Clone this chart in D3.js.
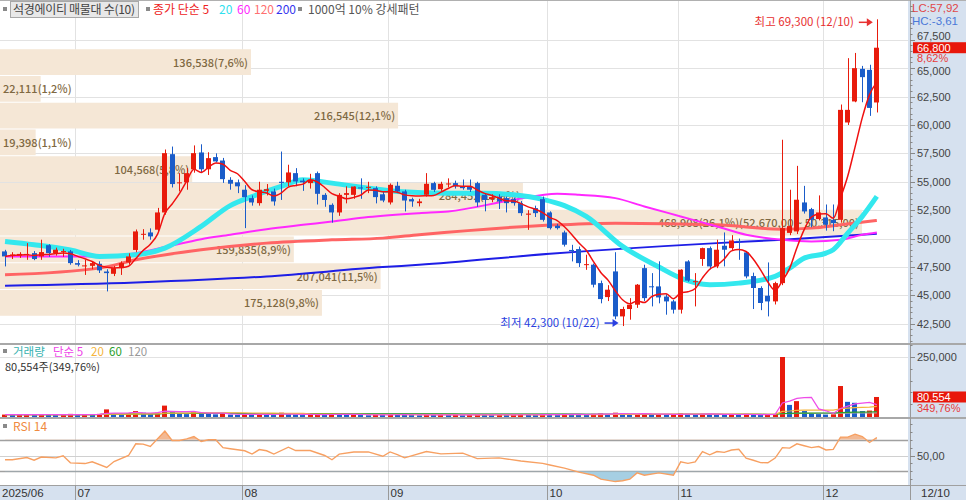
<!DOCTYPE html>
<html><head><meta charset="utf-8">
<script src="https://cdn.jsdelivr.net/npm/d3@7"></script>
<style>
body{margin:0;background:#fff;}
svg{display:block;font-family:"Noto Sans CJK KR","Noto Sans",sans-serif;font-size:11px;}
</style></head><body>
<svg id="c" width="966" height="500"></svg>
<script>
// ---------------- DATA ----------------
const dates = [
"2025/06/17","2025/06/18","2025/06/19","2025/06/20","2025/06/23","2025/06/24","2025/06/25","2025/06/26","2025/06/27","2025/06/30",
"2025/07/01","2025/07/02","2025/07/03","2025/07/04","2025/07/07","2025/07/08","2025/07/09","2025/07/10","2025/07/11","2025/07/14","2025/07/15","2025/07/16","2025/07/17","2025/07/18","2025/07/21","2025/07/22","2025/07/23","2025/07/24","2025/07/25","2025/07/28","2025/07/29","2025/07/30","2025/07/31",
"2025/08/01","2025/08/04","2025/08/05","2025/08/06","2025/08/07","2025/08/08","2025/08/11","2025/08/12","2025/08/13","2025/08/14","2025/08/18","2025/08/19","2025/08/20","2025/08/21","2025/08/22","2025/08/25","2025/08/26","2025/08/27","2025/08/28","2025/08/29",
"2025/09/01","2025/09/02","2025/09/03","2025/09/04","2025/09/05","2025/09/08","2025/09/09","2025/09/10","2025/09/11","2025/09/12","2025/09/15","2025/09/16","2025/09/17","2025/09/18","2025/09/19","2025/09/22","2025/09/23","2025/09/24","2025/09/25","2025/09/26","2025/09/29","2025/09/30",
"2025/10/01","2025/10/02","2025/10/10","2025/10/13","2025/10/14","2025/10/15","2025/10/16","2025/10/17","2025/10/20","2025/10/21","2025/10/22","2025/10/23","2025/10/24","2025/10/27","2025/10/28","2025/10/29","2025/10/30","2025/10/31",
"2025/11/03","2025/11/04","2025/11/05","2025/11/06","2025/11/07","2025/11/10","2025/11/11","2025/11/12","2025/11/13","2025/11/14","2025/11/17","2025/11/18","2025/11/19","2025/11/20","2025/11/21","2025/11/24","2025/11/25","2025/11/26","2025/11/27","2025/11/28",
"2025/12/01","2025/12/02","2025/12/03","2025/12/04","2025/12/05","2025/12/08","2025/12/09","2025/12/10"];

const open = [48870,48500,48500,48600,48720,48430,49420,48720,48850,48870,
47840,47600,47600,47780,47100,46900,47400,47900,49000,50400,50540,50780,52300,57430,54900,54950,56100,57580,56100,57170,56870,55170,54950,
54300,53560,53120,54200,54150,55000,54950,55760,55100,54880,55760,53850,52970,52300,53850,53850,54500,54500,54440,53900,
53180,54650,54150,53470,53120,53860,54880,54350,54790,54880,54590,54590,54880,53850,53470,53700,53560,53470,53120,52100,52680,53470,
52300,51130,50540,49000,49075,47700,47700,46080,44850,47110,43150,43800,44180,47400,45800,45790,44900,44470,
43740,47990,46200,48200,49160,47550,49370,49160,49800,48780,46700,45650,44970,44470,46080,50500,50630,53180,52590,51720,
51860,51650,51650,60220,62070,64940,64850,61980];
const high = [49010,48800,48800,49600,48900,49900,49500,49200,49100,49000,
48100,48130,48000,48000,47300,47600,48000,48700,50800,50830,50900,52700,57840,58100,55760,56200,58200,58300,57600,57500,57100,55400,55200,
54700,53800,55000,54800,54400,57660,56500,56200,55300,55700,55900,54000,53100,54000,54600,54600,55300,55000,54600,54100,
54850,55000,54300,53600,53500,55760,55000,55000,55300,55100,55200,55200,55000,54000,53900,53900,53700,53600,53300,52500,52900,53700,
52400,51300,50700,49450,49300,48580,47800,46300,45900,48800,44000,44760,46000,47700,46960,48000,45100,44600,
47300,48100,46960,49200,49300,49900,50540,50300,50000,48900,47000,45800,47900,46200,58700,54300,56400,54640,52700,53800,
53000,53000,61800,65880,66340,65200,65300,69300];
const low = [47550,48200,48300,48130,48100,48130,48400,48500,48400,47700,
47550,46800,47300,46970,45350,46700,46800,47700,48800,49900,49900,50600,52100,54500,54150,54300,55800,55800,55600,56700,54900,54300,54000,
50920,52900,52900,53800,52900,53400,54600,54600,54200,54400,53000,52800,51400,52000,53100,53500,53500,54000,53100,53200,
53000,54000,52390,52800,52830,53700,54100,54200,54500,54400,54300,54100,52800,52400,53200,52600,52300,52900,52000,50770,51900,51500,
50800,50800,49300,47990,47500,47250,45700,44300,44500,42900,42300,42860,43900,44500,44030,44300,43300,43400,
43400,46200,44030,47600,47300,47400,47550,49000,48130,46500,43800,43700,43150,44200,45900,50300,50400,52200,51000,51600,
50700,50650,51400,60000,62000,62000,60800,61100];
const close = [48430,48600,48650,48650,48200,48810,48720,49020,48900,47840,
47700,47640,47840,47200,46960,47400,47840,48430,50630,50420,50190,52300,57520,54800,54950,55760,57520,56100,57080,56790,55230,54830,54600,
53650,53180,54300,54350,53270,54900,55820,55030,54950,55170,53940,53400,52300,53850,54000,54580,54450,54550,53650,53350,
54730,54150,53350,53270,53270,54820,54290,54820,54850,54590,54440,54300,53180,53400,53650,53270,53120,53120,52240,52200,52240,51650,
50920,50920,49460,48900,47840,47750,45940,44675,45500,43150,43800,44180,45940,44760,45750,44820,44470,43740,
47260,46300,46250,49160,47550,49020,49020,49840,49750,46670,45650,44330,44470,46080,50920,51100,53420,52390,51650,52300,
51220,51360,61330,61330,65000,64210,61500,66800];
const volume = [6000,5000,5500,7000,5000,8000,6000,4000,5000,9000,
6000,7000,5000,9000,28000,10000,8000,12000,21000,14000,9000,14000,44000,17000,10000,8000,21000,14000,10000,7000,9000,6000,5000,
9000,6000,8000,5000,4000,14000,8000,6000,4000,5000,8000,6000,9000,8000,5000,6000,4000,3000,5000,4000,
8000,6000,5000,4000,3000,7000,5000,6000,4000,5000,3000,4000,8000,6000,4000,5000,4000,6000,7000,5000,4000,8000,
7000,4000,9000,8000,6000,5000,9000,11000,7000,14000,10000,6000,9000,12000,6000,7000,5000,6000,
12000,9000,5000,9000,8000,7000,6000,6000,5000,9000,6000,5000,6000,8000,250000,47000,63000,21000,12000,8000,
6000,7000,127000,60000,56000,21000,23031,80554];

// moving averages: [candle index, price]
const ma20Pts = [[0,49750],[4,49460],[9,49000],[13,48430],[18,48580],[22,49160],[27,51070],[31,52900],[34,53700],[38,54590],[41,55170],[45,54880],[50,54440],[54,54150],[61,54000],[66,54000],[70,53850],[74,53450],[77,52900],[80,51950],[85,49310],[90,47500],[93,46520],[97,45940],[101,46080],[106,46670],[108,47400],[110,48280],[113,48720],[114,49020],[116,50480],[118,51950],[120,53710]];
const ma60Pts = [[0,48430],[13,48430],[18,48720],[22,49250],[27,49950],[31,50330],[36,50830],[41,51210],[45,51500],[50,51890],[57,52240],[61,52390],[70,53410],[76,53940],[79,53850],[84,53560],[88,52830],[93,51950],[98,51070],[102,50340],[107,49890],[111,49750],[115,49890],[118,50340],[120,50540]];
const ma120Pts = [[0,46815],[13,47400],[18,48130],[27,49020],[36,49600],[45,49890],[52,50040],[57,50340],[76,51210],[84,51360],[98,51210],[107,50830],[111,50920],[115,51210],[120,51590]];
const ma200Pts = [[0,45850],[18,46140],[36,46670],[52,47490],[57,47690],[75,48660],[98,49600],[107,49890],[120,50420]];
// RSI 14: [candle index, value]
const rsiPts = [[0,44.6],[1,44.6],[3,47.5],[4,44],[5,48],[7,47],[8,49.6],[9,40.7],[11,39.8],[12,42],[14,34.8],[15,42.4],[17,50],[18,64.8],[19,64.4],[20,61.4],[22,81],[23,69],[24,69],[25,71],[26,74],[27,67.7],[28,70],[29,70],[30,60],[31,58.6],[33,56],[34,51.8],[35,57.5],[36,56],[37,51.8],[39,60.5],[40,56.3],[42,56.3],[44,50],[45,44.6],[46,51.8],[48,54.5],[50,54.5],[52,49],[53,54.5],[54,51],[55,47],[58,55],[60,52],[63,53],[65,46],[68,47],[71,43],[74,40],[75,38],[77,34],[79,29],[81,25],[82,20],[84,17],[85,18],[86,20],[87,28],[88,25],[90,28],[92,25],[93,42],[94,40],[95,42],[96,55],[97,50.9],[98,55],[99,54],[100,57],[101,57.8],[102,46.7],[103,44],[104,41],[105,40.8],[106,46.7],[107,60],[108,59.4],[109,64.8],[110,62.3],[111,60],[112,61.3],[113,57],[114,57.8],[115,73.3],[116,73.3],[117,77],[118,74],[119,66.5],[120,72.8]];

// volume profile (매물대), top to bottom
const profHigh = [66800,64445,62090,59735,57380,55025,52670,50315,47960,45605];
const profLow  = [64445,62090,59735,57380,55025,52670,50315,47960,45605,43250];
const profVol  = [136538,22111,216545,19398,104568,284452,468908,159835,207041,175128];

const priceTicks = [42500,45000,47500,50000,52500,55000,57500,60000,62500,65000,67500];
const volTicks = [250000];
const rsiTicks = [50];
const rsiLevels = [70,50,30];

// legends
const mainLegend = [["종가 단순 5","#ee2222"],["20","#30e0ee"],["60","#ff28ff"],["120","#ff7070"],["200","#3535ee"]];
const volLegend = [["거래량","#37b2b0"],["단순 5","#ee44e8"],["20","#f5b53c"],["60","#2aa02a"],["120","#999"]];

// ---------------- LAYOUT ----------------
const W=966,H=500,AX=908;
const AXBG="#d6e1ef";
const UP="#e81b0c", DN="#1a5cc9";
const NUMFONT="'Liberation Sans','DejaVu Sans',sans-serif";
const P={top:0,bottom:343}, V={top:345,bottom:417}, R={top:419,bottom:485};
const svg=d3.select("#c");
const n=dates.length;
const x=d3.scaleBand().domain(d3.range(n)).range([1.4,1.4+n*7.265]).paddingInner(0.3).paddingOuter(0.15);
const bw=x.bandwidth();
const cx=i=>x(i)+bw/2;
const yP=d3.scaleLinear().domain([40800,71000]).range([343.1,0]);
const yV=d3.scaleLinear().domain([0,300000]).range([416,345.2]);
const yR=d3.scaleLinear().domain([0,100]).range([495,416]);
const fmt=d3.format(",");
const dec=(v,p)=>v.toFixed(p).replace(".",",");
const fmt2=v=>d3.format(",.2f")(v).replace(/\.(\d\d)$/,",$1");

const defs=svg.append("defs");
function clip(id,x0,y0,w,h){defs.append("clipPath").attr("id",id).append("rect").attr("x",x0).attr("y",y0).attr("width",w).attr("height",h);}
clip("cp",0,P.top,AX,P.bottom-P.top);
clip("cv",0,V.top,AX,V.bottom-V.top+1);
clip("cr",0,R.top,AX,R.bottom-R.top);
clip("crUp",0,R.top,AX,yR(70)-R.top);
clip("crDn",0,yR(30),AX,R.bottom-yR(30));

// backgrounds
svg.append("rect").attr("width",W).attr("height",H).attr("fill","#fff");
svg.append("rect").attr("x",AX).attr("y",0).attr("width",W-AX).attr("height",H).attr("fill",AXBG);
svg.append("rect").attr("x",0).attr("y",R.bottom).attr("width",W).attr("height",H-R.bottom).attr("fill",AXBG);

// month starts
const monthStarts=[];
dates.forEach((d,i)=>{ if(i===0||d.slice(5,7)!==dates[i-1].slice(5,7)) monthStarts.push(i); });

// grids
const g=svg.append("g");
monthStarts.forEach(i=>{ if(i===0) return;
  const xx=Math.round(x(i))+0.5;
  g.append("line").attr("x1",xx).attr("x2",xx).attr("y1",0).attr("y2",R.bottom).attr("stroke","#e2e2e2");
});
priceTicks.forEach(t=>{const yy=Math.round(yP(t))+0.5;
  g.append("line").attr("x1",0).attr("x2",AX).attr("y1",yy).attr("y2",yy).attr("stroke","#e2e2e2");});
volTicks.forEach(t=>{const yy=Math.round(yV(t))+0.5;
  g.append("line").attr("x1",0).attr("x2",AX).attr("y1",yy).attr("y2",yy).attr("stroke","#e2e2e2");});
rsiLevels.forEach(t=>{const yy=Math.round(yR(t))+0.5;
  g.append("line").attr("x1",0).attr("x2",AX).attr("y1",yy).attr("y2",yy)
   .attr("stroke",t===50?"#d0d0d0":"#a0a0a0").attr("stroke-width",t===50?1:1.6);});

// ---------------- PRICE PANEL ----------------
const pg=svg.append("g").attr("clip-path","url(#cp)");
const xProf=d3.scaleLinear().domain([0,d3.max(profVol)]).range([0,862]);
const totalProf=d3.sum(profVol);
const imaxProf=d3.maxIndex(profVol);
profVol.forEach((v,k)=>{
  const y0=yP(profHigh[k])+1.5, y1=yP(profLow[k])+1.5;
  pg.append("rect").attr("x",0).attr("y",y0).attr("width",xProf(v)).attr("height",y1-y0-1).attr("fill","#f5e7d6");
});
profVol.forEach((v,k)=>{
  const y0=yP(profHigh[k])+1.5, y1=yP(profLow[k])+1.5;
  let label=`${fmt(v)}(${dec(v/totalProf*100,1)}%)`;
  if(k===imaxProf) label+=`(${fmt2(profHigh[k])} ~ ${fmt2(profLow[k])})`;
  const t=pg.append("text").attr("y",(y0+y1)/2+4).attr("fill","#7f6942").attr("font-weight",500).text(label);
  const tw=t.node().getComputedTextLength();
  if(xProf(v)>tw+8) t.attr("x",xProf(v)-3).attr("text-anchor","end");
  else t.attr("x",3);
});

// long moving averages
function maLine(pts,color,w){
  pg.append("path").datum(pts).attr("fill","none").attr("stroke",color).attr("stroke-width",w)
    .attr("stroke-linejoin","round")
    .attr("d",d3.line().x(d=>cx(d[0])).y(d=>yP(d[1])).curve(d3.curveMonotoneX));
}
maLine(ma200Pts,"#1e1ee6",2);
maLine(ma120Pts,"#ff6464",3);
maLine(ma60Pts,"#ff28ff",2);
maLine(ma20Pts,"#33e8ee",5);

// candles
const cg=pg.append("g");
d3.range(n).forEach(i=>{
  const up=close[i]>=open[i], col=up?UP:DN;
  const xx=Math.round(cx(i))+0.5;
  cg.append("line").attr("x1",xx).attr("x2",xx).attr("y1",yP(high[i])).attr("y2",yP(low[i])).attr("stroke",col);
  const yt=yP(Math.max(open[i],close[i])), yb=yP(Math.min(open[i],close[i]));
  cg.append("rect").attr("x",Math.round(x(i))).attr("y",yt).attr("width",Math.round(bw)).attr("height",Math.max(1,yb-yt)).attr("fill",col);
});
// MA5 from closes
const ma5=close.map((c,i)=>d3.mean(close.slice(Math.max(0,i-4),i+1)));
pg.append("path").datum(ma5).attr("fill","none").attr("stroke","#f01010").attr("stroke-width",1.5)
  .attr("d",d3.line().x((d,i)=>cx(i)).y(d=>yP(d)).curve(d3.curveMonotoneX));

// high / low annotations
function arrow(gp,tipX,yy,col){
  gp.append("line").attr("x1",tipX-14).attr("x2",tipX-5).attr("y1",yy).attr("y2",yy).attr("stroke",col).attr("stroke-width",1.5);
  gp.append("path").attr("d",`M${tipX-6},${yy-4}L${tipX},${yy}L${tipX-6},${yy+4}Z`).attr("fill",col);
}
const iHi=d3.maxIndex(high), iLo=d3.minIndex(low);
const ag=svg.append("g").attr("font-size","11.5px");
{ const yy=yP(high[iHi])+3, tip=cx(iHi)-4;
  ag.append("text").attr("x",tip-19).attr("y",yy+4).attr("text-anchor","end").attr("fill","#e83030")
    .text(`최고 ${fmt(high[iHi])} (${dates[iHi].slice(5)})`);
  arrow(ag,tip,yy,"#e83030"); }
{ const yy=yP(low[iLo])-3, tip=cx(iLo)-4;
  ag.append("text").attr("x",tip-19).attr("y",yy+4).attr("text-anchor","end").attr("fill","#2a3fe0")
    .text(`최저 ${fmt(low[iLo])} (${dates[iLo].slice(5)})`);
  arrow(ag,tip,yy,"#2a3fe0"); }

// top legend
const lg=svg.append("g").attr("font-size","12px");
lg.append("rect").attr("x",3).attr("y",7).attr("width",4).attr("height",4).attr("fill","#8a8a8a");
lg.append("rect").attr("x",10.5).attr("y",1.5).attr("width",128).attr("height",16).attr("fill","#e8e8e8").attr("stroke","#a8a8a8");
lg.append("text").attr("x",13).attr("y",14).attr("fill","#444").attr("textLength",122).attr("lengthAdjust","spacing").text("석경에이티 매물대 수(10)");
lg.append("rect").attr("x",146).attr("y",7).attr("width",4).attr("height",4).attr("fill","#8a8a8a");
const mlX=[153,219,237,254,276];
mainLegend.forEach(([s,c],k)=>lg.append("text").attr("x",mlX[k]).attr("y",14).attr("fill",c).text(s));
lg.append("rect").attr("x",298).attr("y",7).attr("width",4).attr("height",4).attr("fill","#8a8a8a");
lg.append("text").attr("x",308).attr("y",14).attr("fill","#555").text("1000억 10% 강세패턴");

// ---------------- VOLUME PANEL ----------------
const vg=svg.append("g").attr("clip-path","url(#cv)");
volume.forEach((v,i)=>{
  const up=i===0?true:v>=volume[i-1];
  vg.append("rect").attr("x",Math.round(x(i))).attr("y",yV(v)).attr("width",Math.round(bw)).attr("height",yV(0)-yV(v)+1).attr("fill",up?UP:DN);
});
function vma(p){return volume.map((v,i)=>d3.mean(volume.slice(Math.max(0,i-p+1),i+1)));}
[[120,"#a8a8a8"],[60,"#2aa02a"],[20,"#f5b53c"],[5,"#ee4ce8"]].forEach(([p,c])=>{
  vg.append("path").datum(vma(p)).attr("fill","none").attr("stroke",c).attr("stroke-width",1.2)
    .attr("d",d3.line().x((d,i)=>cx(i)).y(d=>yV(d)));
});
const lastV=volume[n-1], prevV=volume[n-2];
const vl=svg.append("g").attr("font-size","11.5px");
vl.append("rect").attr("x",3).attr("y",349).attr("width",4).attr("height",4).attr("fill","#8a8a8a");
const vlX=[13,53,91,109,128];
volLegend.forEach(([s,c],k)=>vl.append("text").attr("x",vlX[k]).attr("y",355.5).attr("fill",c).text(s));
vl.append("text").attr("x",5).attr("y",371).attr("font-size","11px").attr("fill","#333").text(`${fmt(lastV)}주(${dec(lastV/prevV*100,2)}%)`);

// ---------------- RSI PANEL ----------------
const rg=svg.append("g");
rg.append("path").datum(rsiPts).attr("clip-path","url(#crUp)").attr("fill","#f0a878").attr("opacity",0.8)
  .attr("d",d3.area().x(d=>cx(d[0])).y0(yR(70)).y1(d=>yR(d[1])));
rg.append("path").datum(rsiPts).attr("clip-path","url(#crDn)").attr("fill","#9ccae0").attr("opacity",0.9)
  .attr("d",d3.area().x(d=>cx(d[0])).y0(yR(30)).y1(d=>yR(d[1])));
rg.append("path").datum(rsiPts).attr("clip-path","url(#cr)").attr("fill","none").attr("stroke","#f7a062").attr("stroke-width",1.4)
  .attr("d",d3.line().x(d=>cx(d[0])).y(d=>yR(d[1])));
rg.append("rect").attr("x",3).attr("y",424).attr("width",4).attr("height",4).attr("fill","#8a8a8a");
rg.append("text").attr("x",13).attr("y",431).attr("font-size","12px").attr("fill","#f08a40").text("RSI 14");

// ---------------- SEPARATORS ----------------
[[0.5,1,"#b0b0b0"],[344,2,"#a8a8a8"],[418,2,"#a8a8a8"],[R.bottom+0.5,1,"#a0a0a0"]].forEach(([yy,w,c])=>
  svg.append("line").attr("x1",0).attr("x2",W).attr("y1",yy).attr("y2",yy).attr("stroke",c).attr("stroke-width",w));
svg.append("line").attr("x1",910.5).attr("x2",910.5).attr("y1",0).attr("y2",R.bottom).attr("stroke","#999");

// ---------------- RIGHT AXES ----------------
const ax=svg.append("g").attr("fill","#444").attr("font-size","11px").attr("font-family",NUMFONT);
d3.range(41000,71000,500).forEach(t=>{const yy=Math.round(yP(t))+0.5;
  ax.append("line").attr("x1",910).attr("x2",t%2500===0?915:912.5).attr("y1",yy).attr("y2",yy).attr("stroke","#888");});
const lastC=close[n-1], prevC=close[n-2];
const boxY=yP(lastC);
priceTicks.forEach(t=>{let yy=yP(t);
  if(yy<boxY && boxY-yy<12) yy=boxY-12;
  if(yy>=boxY && yy-boxY<23) yy=boxY+23.5;
  ax.append("text").attr("x",917).attr("y",yy+4).text(fmt(t));});
ax.append("rect").attr("x",913).attr("y",boxY-5.5).attr("width",53).attr("height",11).attr("fill","#e8170b");
ax.append("text").attr("x",917).attr("y",boxY+4).attr("fill","#fff").text(fmt(lastC));
ax.append("text").attr("x",917).attr("y",boxY+14.5).attr("fill","#e83a3a").text(`${dec((lastC-prevC)/prevC*100,2)}%`);
const minLow=d3.min(low), maxHigh=d3.max(high);
ax.append("text").attr("x",912).attr("y",11.5).attr("font-size","11.5px").attr("fill","#e04848").text(`LC:${dec((lastC/minLow-1)*100,2)}`);
ax.append("text").attr("x",912).attr("y",24.5).attr("font-size","11.5px").attr("fill","#4a78d8").text(`HC:${dec((lastC/maxHigh-1)*100,2)}`);
d3.range(50000,300001,50000).forEach(t=>{const yy=Math.round(yV(t))+0.5;
  ax.append("line").attr("x1",910).attr("x2",t%250000===0?915:912.5).attr("y1",yy).attr("y2",yy).attr("stroke","#888");});
volTicks.forEach(t=>ax.append("text").attr("x",917).attr("y",yV(t)+4).text(fmt(t)));
const vbY=yV(lastV);
ax.append("rect").attr("x",913).attr("y",vbY-5.5).attr("width",53).attr("height",11).attr("fill","#e8170b");
ax.append("text").attr("x",917).attr("y",vbY+4).attr("fill","#fff").text(fmt(lastV));
ax.append("text").attr("x",917).attr("y",vbY+15).attr("fill","#e83a3a").text(`${dec(lastV/prevV*100,2)}%`);
d3.range(20,100,10).forEach(t=>{const yy=Math.round(yR(t))+0.5;
  ax.append("line").attr("x1",910).attr("x2",t===50?915:912.5).attr("y1",yy).attr("y2",yy).attr("stroke","#888");});
rsiTicks.forEach(t=>ax.append("text").attr("x",917).attr("y",yR(t)+4).text(dec(t,2)));

// ---------------- X AXIS ----------------
const xa=svg.append("g").attr("fill","#333").attr("font-size","11.5px").attr("font-family",NUMFONT);
monthStarts.forEach(i=>{
  const xx=Math.round(x(i))+0.5;
  if(i>0) xa.append("line").attr("x1",xx).attr("x2",xx).attr("y1",R.bottom).attr("y2",H).attr("stroke","#999");
  const lab=i===0?dates[i].slice(0,7):dates[i].slice(5,7);
  xa.append("text").attr("x",i===0?2:xx+2).attr("y",497).text(lab);
});
xa.append("line").attr("x1",910.5).attr("x2",910.5).attr("y1",R.bottom).attr("y2",H).attr("stroke","#999");
xa.append("text").attr("x",921).attr("y",497).text(dates[n-1].slice(5));
</script>
</body></html>
